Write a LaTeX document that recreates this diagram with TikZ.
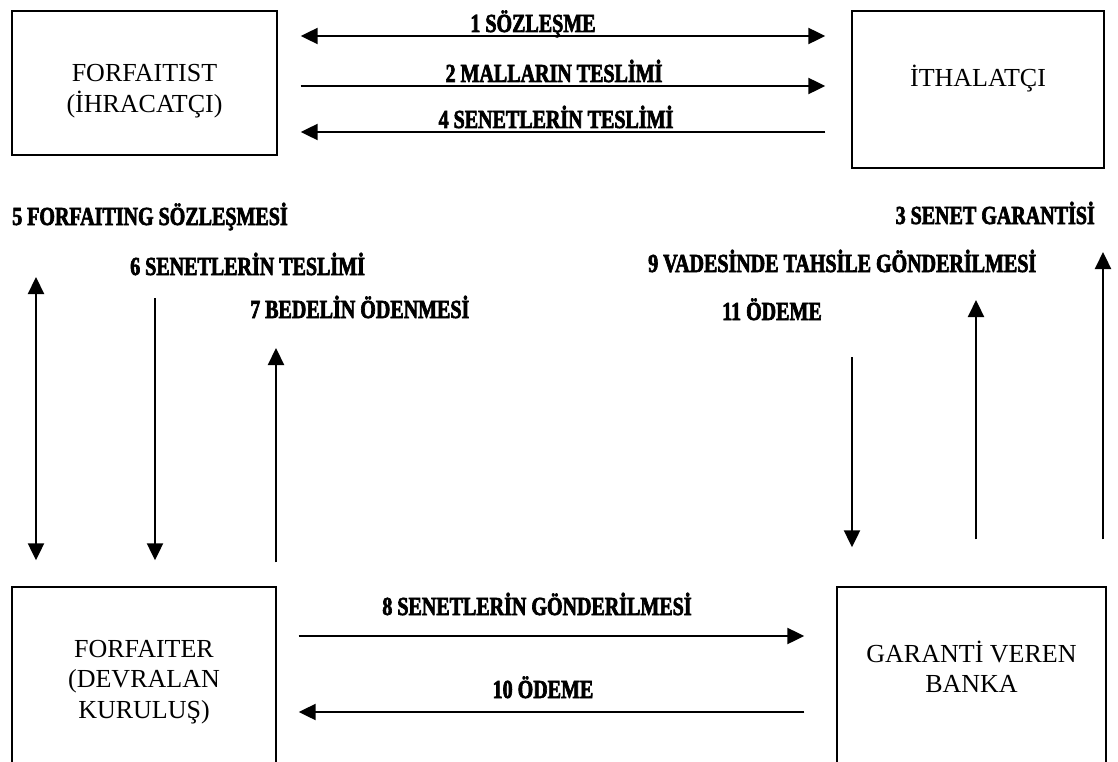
\documentclass[tikz,border=0pt]{standalone}
\usepackage{fontspec}
\setmainfont{Liberation Serif}
\newfontfamily\etiketfont[FakeStretch=0.77,FakeBold=2.5]{Liberation Serif}
\usetikzlibrary{arrows.meta}

\begin{document}
\begin{tikzpicture}[x=1pt,y=-1pt,
    kutu/.style={draw,line width=1.4pt,inner sep=0pt},
    yazi/.style={align=center,inner sep=0pt,font=\fontsize{26}{30.5}\selectfont},
    etiket/.style={inner sep=0pt,font=\fontsize{26}{30}\etiketfont\bfseries},
    ok/.style={line width=2.2pt,-{Triangle[length=17pt,width=16pt]}},
    cok/.style={line width=2.2pt,{Triangle[length=17pt,width=16pt]}-{Triangle[length=17pt,width=16pt]}}]
        \useasboundingbox (0,0) rectangle (1118,762);
        % kutular
        \node[kutu,minimum width=265pt,minimum height=144pt] (ihracatci) at (144.5,83) {};
        \node[kutu,minimum width=252pt,minimum height=157pt] (ithalatci) at (978,89.5) {};
        \node[kutu,minimum width=264pt,minimum height=190pt] (forfaiter) at (144,682) {};
        \node[kutu,minimum width=269pt,minimum height=190pt] (banka) at (971.5,682) {};
        \node[yazi] (ihracatciyazi) at ([yshift=-8pt]ihracatci.center) {FORFAITIST\\(İHRACATÇI)};
        \node[yazi] (ithalatciyazi) at ([yshift=11pt]ithalatci.center) {İTHALATÇI};
        \node[yazi] (forfaiteryazi) at (forfaiter.center) {FORFAITER\\(DEVRALAN\\KURULUŞ)};
        \node[yazi] (bankayazi) at ([yshift=15pt]banka.center) {GARANTİ VEREN\\BANKA};
        % ust oklar
        \coordinate (y1) at (0,36);
        \coordinate (y2) at (0,86);
        \coordinate (y4) at (0,132);
        \draw[cok,shorten <=23pt,shorten >=26pt] (ihracatci.east |- y1) -- (ithalatci.west |- y1);
        \draw[ok,shorten <=23pt,shorten >=26pt] (ihracatci.east |- y2) -- (ithalatci.west |- y2);
        \draw[ok,shorten <=26pt,shorten >=23pt] (ithalatci.west |- y4) -- (ihracatci.east |- y4);
        \node[etiket,anchor=base] (e1) at (533,32) {1 SÖZLEŞME};
        \node[etiket,anchor=base] (e2) at (554,82) {2 MALLARIN TESLİMİ};
        \node[etiket,anchor=base] (e4) at (556,128) {4 SENETLERİN TESLİMİ};
        % dikey oklar
        \coordinate (u5) at (36,277);
        \coordinate (u6) at (155,298);
        \coordinate (u7) at (276,348);
        \coordinate (u11) at (852,357);
        \coordinate (u9) at (976,300);
        \coordinate (u3) at (1103,252);
        \draw[cok,shorten >=26pt] (u5) -- (u5 |- forfaiter.north);
        \draw[ok,shorten >=26pt] (u6) -- (u6 |- forfaiter.north);
        \draw[ok,shorten <=24pt] (u7 |- forfaiter.north) -- (u7);
        \draw[ok,shorten >=39pt] (u11) -- (u11 |- banka.north);
        \draw[ok,shorten <=47pt] (u9 |- banka.north) -- (u9);
        \draw[ok,shorten <=47pt] (u3 |- banka.north) -- (u3);
        \node[etiket,anchor=base west] (e5) at (12,225) {5 FORFAITING SÖZLEŞMESİ};
        \node[etiket,anchor=base west] (e6) at (130,275) {6 SENETLERİN TESLİMİ};
        \node[etiket,anchor=base west] (e7) at (250,318) {7 BEDELİN ÖDENMESİ};
        \node[etiket,anchor=base east] (e3) at (1095,224) {3 SENET GARANTİSİ};
        \node[etiket,anchor=base west] (e9) at (648,272) {9 VADESİNDE TAHSİLE GÖNDERİLMESİ};
        \node[etiket,anchor=base west] (e11) at (722,320) {11 ÖDEME};
        % alt oklar
        \coordinate (y8) at (0,636);
        \coordinate (y10) at (0,712);
        \draw[ok,shorten <=22pt,shorten >=32pt] (forfaiter.east |- y8) -- (banka.west |- y8);
        \draw[ok,shorten <=32pt,shorten >=22pt] (banka.west |- y10) -- (forfaiter.east |- y10);
        \node[etiket,anchor=base] (e8) at (537,615) {8 SENETLERİN GÖNDERİLMESİ};
        \node[etiket,anchor=base] (e10) at (543,698) {10 ÖDEME};
\end{tikzpicture}
\end{document}
